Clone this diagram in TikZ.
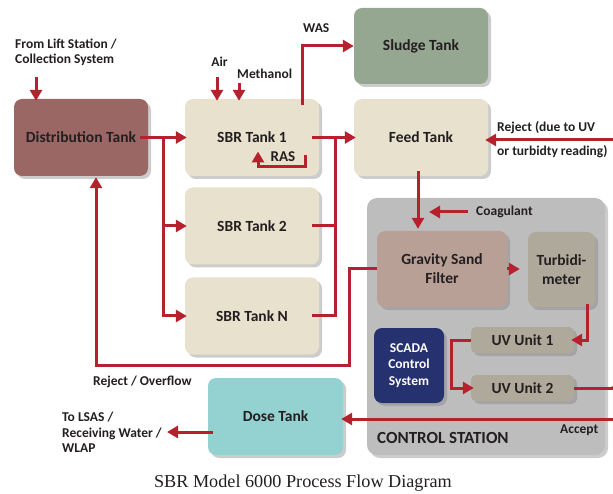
\documentclass[tikz,border=0pt]{standalone}
\usepackage{fontspec}
\setmainfont{Carlito}
\newfontfamily\titlefont{Liberation Serif}
\usetikzlibrary{arrows.meta,shadows}
\definecolor{flowred}{HTML}{B5222D}
\definecolor{ink}{HTML}{231F20}
\definecolor{distred}{HTML}{9B6765}
\definecolor{beige}{HTML}{E8E1CD}
\definecolor{sludge}{HTML}{95A790}
\definecolor{stationgray}{HTML}{BEBDBE}
\definecolor{sand}{HTML}{B9A096}
\definecolor{unitgray}{HTML}{AEA99B}
\definecolor{navy}{HTML}{263170}
\definecolor{dosecyan}{HTML}{93D2D0}

\begin{document}
\begin{tikzpicture}[x=1pt,y=-1pt,
  box/.style={rounded corners=8pt,minimum width=134pt,minimum height=77pt,align=center,text=ink,
    font=\fontsize{15.5}{19}\selectfont\bfseries,
    drop shadow={shadow xshift=3pt,shadow yshift=-3pt,opacity=.4}},
  unit/.style={box,fill=unitgray,minimum width=103pt,minimum height=26pt,rounded corners=5pt},
  station/.style={fill=stationgray,rounded corners=10pt,minimum width=238pt,minimum height=257pt,
    drop shadow={shadow xshift=3pt,shadow yshift=-3pt,opacity=.4}},
  lbl/.style={text=ink,font=\fontsize{13.5}{15.5}\selectfont\bfseries,align=left,inner sep=0pt},
  pipe/.style={draw=flowred,line width=3pt},
  flow/.style={pipe,-{Triangle[width=12pt,length=11pt,sep=4pt]},shorten >=-6pt}]
  \useasboundingbox (0,0) rectangle (613,494);
  \clip (0,0) rectangle (613,494);

  \node[station] (station) at (486,326.5) {};
  \node[lbl,anchor=west,font=\fontsize{17}{20}\selectfont\bfseries] (cstation) at (377,438) {CONTROL STATION};

  \node[box,fill=distred] (dist) at (81,137.5) {Distribution Tank};
  \node[box,fill=beige] (sbr1) at (252,137.5) {SBR Tank 1};
  \node[box,fill=beige] (sbr2) at (252,226) {SBR Tank 2};
  \node[box,fill=beige] (sbrn) at (252,316) {SBR Tank N};
  \node[box,fill=sludge,minimum height=76pt] (sludge) at (421,46) {Sludge Tank};
  \node[box,fill=beige] (feed) at (421,137.5) {Feed Tank};
  \node[box,fill=dosecyan,minimum width=135pt] (dose) at (275.5,416.5) {Dose Tank};
  \node[box,fill=sand,minimum width=130pt,minimum height=76pt] (gsf) at (442,269) {Gravity Sand\\Filter};
  \node[box,fill=unitgray,minimum width=67pt,minimum height=75pt] (turb) at (561.5,269.5) {Turbidi-\\meter};
  \node[unit] (uv1) at (522.5,340) {UV Unit 1};
  \node[unit] (uv2) at (522.5,388) {UV Unit 2};
  \node[box,fill=navy,text=white,minimum width=70pt,minimum height=75pt,
    font=\fontsize{13.5}{16.5}\selectfont\bfseries] (scada) at (409,365.5) {SCADA\\Control\\System};

  \node[lbl,anchor=west] (lift) at (15,52.5) {From Lift Station /\\Collection System};
  \node[lbl] (air) at (219.5,62) {Air};
  \node[lbl,anchor=west] (meth) at (237,74) {Methanol};
  \node[lbl,anchor=west] (was) at (303,28) {WAS};
  \node[lbl,font=\fontsize{15}{16}\selectfont\bfseries] (ras) at (283,157) {RAS};
  \node[lbl,anchor=west] (coag) at (476,212) {Coagulant};
  \node[lbl,anchor=west] (rejuv) at (497,140) {Reject (due to UV\\[8.5pt]or turbidty reading)};
  \node[lbl,anchor=west] (overflow) at (93,382) {Reject / Overflow};
  \node[lbl,anchor=west] (lsas) at (62,432.5) {To LSAS /\\Receiving Water /\\WLAP};
  \node[lbl,anchor=west] (accept) at (560,430) {Accept};
  \node[text=ink,font=\fontsize{18.2}{22}\selectfont\titlefont] (title) at (303,483) {SBR Model 6000 Process Flow Diagram};

  \coordinate (liftin) at (36,77);
  \coordinate (airin) at (217,77);
  \coordinate (methin) at (239,83);
  \coordinate (split) at (163,137.5);
  \coordinate (merge) at (335,137.5);
  \coordinate (coagin) at (425,212);
  \coordinate (rejin) at (613,140);
  \coordinate (acceptin) at (613,419);
  \coordinate (redge) at (613,388);
  \coordinate (ovf) at (96,365);
  \coordinate (lsasin) at (163,432);

  \draw[flow] (liftin) -- (liftin |- dist.north);
  \draw[flow] (airin) -- (airin |- sbr1.north);
  \draw[flow] (methin) -- (methin |- sbr1.north);
  \draw[flow] ([xshift=-8pt]dist.east) -- (sbr1.west);
  \draw[flow] (split) |- (sbrn.west);
  \draw[flow] (split |- sbr2.west) -- (sbr2.west);
  \draw[flow] ([xshift=-7pt]sbr1.east) -- (feed.west);
  \draw[pipe] ([xshift=-7pt]sbrn.east) -| (merge);
  \draw[pipe] ([xshift=-7pt]sbr2.east) -- (merge |- sbr2.east);
  \draw[flow,shorten >=-4pt] ([xshift=50pt,yshift=-6pt]sbr1.north) |- (sludge.west);
  \draw[flow,shorten >=0pt] ([shift={(53,18)}]sbr1.center) -- ++(0,11) -| ([shift={(6,10)}]sbr1.center);
  \draw[flow,shorten >=-2pt] ([xshift=-3pt,yshift=5pt]feed.south) -- ([xshift=-3pt]feed.south |- gsf.north);
  \draw[flow,shorten >=0pt] ([xshift=-8pt]coag.west) -- (coagin);
  \draw[flow,shorten >=4pt] (gsf.east) -- (gsf.east -| turb.west);
  \draw[flow,shorten >=-7pt] ([xshift=25.5pt,yshift=3pt]turb.south) |- (uv1.east);
  \draw[flow,shorten >=-7pt] (uv1.west) -- ++(-19,0) |- (uv2.west);
  \draw[pipe] (uv2.east) -- (redge);
  \fill[flowred] (609,388) -- ++(12,-6) -- ++(0,12) -- cycle;
  \draw[flow,shorten >=-7pt] (rejin) -- (rejin -| feed.east);
  \draw[flow] (acceptin) -- (acceptin -| dose.east);
  \draw[flow,shorten >=-3pt] (gsf.west) -- ++(-27,0) |- (ovf) -- (ovf |- dist.south);
  \draw[flow,shorten >=0pt] ([xshift=5pt]dose.west |- lsasin) -- (lsasin);
\end{tikzpicture}
\end{document}
